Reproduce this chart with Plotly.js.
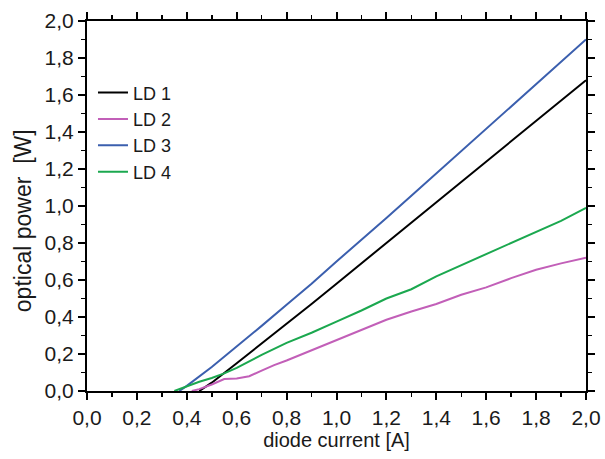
<!DOCTYPE html>
<html>
<head>
<meta charset="utf-8">
<script src="https://cdn.plot.ly/plotly-3.0.1.min.js"></script>
<style>html,body{margin:0;padding:0;background:#fff;}#plot{width:605px;height:459px;}</style>
</head>
<body>
<div id="plot"></div>
<script>
// diode current [A] and optical power [W]
const ld1X = [0.45, 0.5, 0.6, 0.7, 0.8, 0.9, 1.0, 1.1, 1.2, 1.3, 1.4, 1.5, 1.6, 1.7, 1.8, 1.9, 2.0];
const ld1Y = [0.0, 0.045, 0.15, 0.255, 0.36, 0.47, 0.58, 0.69, 0.80, 0.91, 1.02, 1.13, 1.24, 1.35, 1.46, 1.57, 1.68];

const ld2X = [0.42, 0.45, 0.5, 0.55, 0.6, 0.65, 0.7, 0.75, 0.8, 0.9, 1.0, 1.1, 1.2, 1.3, 1.4, 1.5, 1.6, 1.7, 1.8, 1.9, 2.0];
const ld2Y = [0.0, 0.01, 0.035, 0.065, 0.068, 0.08, 0.11, 0.14, 0.165, 0.22, 0.275, 0.33, 0.385, 0.43, 0.47, 0.52, 0.56, 0.61, 0.655, 0.69, 0.72];

const ld3X = [0.37, 0.4, 0.5, 0.6, 0.7, 0.8, 0.9, 1.0, 1.1, 1.2, 1.3, 1.4, 1.5, 1.6, 1.7, 1.8, 1.9, 2.0];
const ld3Y = [0.0, 0.028, 0.13, 0.24, 0.352, 0.466, 0.58, 0.70, 0.815, 0.935, 1.055, 1.175, 1.295, 1.42, 1.54, 1.66, 1.78, 1.90];

const ld4X = [0.35, 0.4, 0.45, 0.5, 0.55, 0.6, 0.7, 0.8, 0.9, 1.0, 1.1, 1.2, 1.3, 1.4, 1.5, 1.6, 1.7, 1.8, 1.9, 2.0];
const ld4Y = [0.0, 0.025, 0.05, 0.07, 0.095, 0.125, 0.195, 0.26, 0.315, 0.375, 0.435, 0.50, 0.55, 0.62, 0.68, 0.74, 0.80, 0.86, 0.92, 0.99];

const seriesNames = ["LD 1", "LD 2", "LD 3", "LD 4"];
const seriesColors = ["#000000", "#c25fb8", "#3b5fae", "#1ba84f"];
const xs = [ld1X, ld2X, ld3X, ld4X];
const ys = [ld1Y, ld2Y, ld3Y, ld4Y];

const traces = seriesNames.map((n, i) => ({
  x: xs[i], y: ys[i], name: n, type: "scatter", mode: "lines",
  line: {color: seriesColors[i], width: 2}
}));

const FONT = "Liberation Sans, Arial, sans-serif";

const axisCommon = {
  range: [0, 2.0], tick0: 0, dtick: 0.2, tickformat: ".1f",
  ticks: "outside", ticklen: 7, tickwidth: 2, tickcolor: "#000",
  showline: true, linewidth: 2, linecolor: "#000", mirror: "allticks",
  showgrid: false, zeroline: false,
  minor: {dtick: 0.1, ticks: "outside", ticklen: 4, tickwidth: 1.5, tickcolor: "#000", showgrid: false},
  tickfont: {family: FONT, size: 21, color: "#1a1a1a"}
};

const layout = {
  width: 605, height: 459,
  margin: {l: 87, r: 19, t: 21, b: 68},
  separators: ", ",
  paper_bgcolor: "#fff", plot_bgcolor: "#fff",
  showlegend: true,
  legend: {x: 0.012, y: 0.856, xanchor: "left", yanchor: "top", bgcolor: "rgba(0,0,0,0)",
    font: {family: FONT, size: 18, color: "#1a1a1a"}, tracegroupgap: 0},
  xaxis: Object.assign({}, axisCommon, {
    title: {text: "diode current [A]", font: {family: FONT, size: 20, color: "#1a1a1a"}, standoff: 4}
  }),
  yaxis: Object.assign({}, axisCommon, {title: {text: ""}}),
  annotations: [{
    text: "optical power\u00a0 [W]", textangle: -90,
    xref: "paper", yref: "paper", x: 0, y: 0.459, xanchor: "center", yanchor: "middle",
    xshift: -64, showarrow: false,
    font: {family: FONT, size: 23, color: "#1a1a1a"}
  }]
};

Plotly.newPlot("plot", traces, layout, {displayModeBar: false, staticPlot: true});
</script>
</body>
</html>
